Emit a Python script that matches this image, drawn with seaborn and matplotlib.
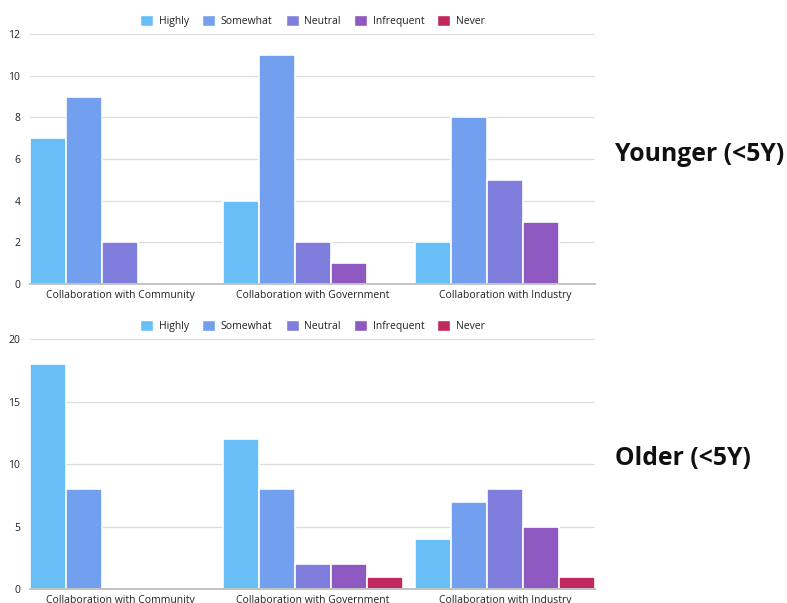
import matplotlib
matplotlib.use("Agg")
import matplotlib.pyplot as plt
import seaborn as sns
import pandas as pd
from matplotlib.patches import Patch

categories = ["Collaboration with Community", "Collaboration with Government", "Collaboration with Industry"]
levels = ["Highly", "Somewhat", "Neutral", "Infrequent", "Never"]
colors = ["#67BFF5", "#72A0EF", "#7F7EDC", "#8E59C0", "#C0285E"]

younger_highly = [7, 4, 2]
younger_somewhat = [9, 11, 8]
younger_neutral = [2, 2, 5]
younger_infrequent = [0, 1, 3]
younger_never = [0, 0, 0]

older_highly = [18, 12, 4]
older_somewhat = [8, 8, 7]
older_neutral = [0, 2, 8]
older_infrequent = [0, 2, 5]
older_never = [0, 1, 1]


def to_long(series):
    rows = []
    for level, vals in zip(levels, series):
        for cat, v in zip(categories, vals):
            rows.append({"category": cat, "level": level, "count": v})
    return pd.DataFrame(rows)


young_df = to_long([younger_highly, younger_somewhat, younger_neutral, younger_infrequent, younger_never])
old_df = to_long([older_highly, older_somewhat, older_neutral, older_infrequent, older_never])

sns.set_theme(style="white")
plt.rcParams["font.family"] = ["Open Sans", "DejaVu Sans"]

fig = plt.figure(figsize=(7.87, 6.03), dpi=100)
ax_top = fig.add_axes([0.0381, 0.529, 0.718, 0.4146])
ax_bot = fig.add_axes([0.0381, 0.0232, 0.718, 0.4146])


def draw(ax, df, ymax, ticks):
    sns.barplot(data=df, x="category", y="count", hue="level", hue_order=levels,
                order=categories, palette=colors, saturation=1, width=0.935, ax=ax,
                edgecolor="white", linewidth=1.2, legend=False, errorbar=None)
    ax.set_xlim(-0.4675, 2.4675)
    ax.set_ylim(0, ymax)
    ax.set_yticks(ticks)
    ax.set_xlabel("")
    ax.set_ylabel("")
    ax.grid(axis="y", color="#DDDDDD", linewidth=0.9)
    ax.set_axisbelow(True)
    for s in ["top", "right", "left"]:
        ax.spines[s].set_visible(False)
    ax.spines["bottom"].set_color("#BBBBBB")
    ax.tick_params(axis="both", length=0, labelsize=7.5, colors="#222222", pad=4)
    ax.tick_params(axis="y", pad=7)
    handles = [Patch(facecolor=c, edgecolor="white", label=l) for l, c in zip(levels, colors)]
    ax.legend(handles=handles, loc="lower center", bbox_to_anchor=(0.5, 1.012), ncol=5,
              frameon=False, fontsize=7.5, handlelength=1.25, handleheight=1.25,
              handletextpad=0.55, columnspacing=1.25, borderaxespad=0, labelcolor="#222222")


draw(ax_top, young_df, 12, [0, 2, 4, 6, 8, 10, 12])
draw(ax_bot, old_df, 20, [0, 5, 10, 15, 20])

fig.text(0.781, 0.743, "Younger (<5Y)", fontsize=17.8, fontweight="bold", color="#111111", va="center", ha="left")
fig.text(0.781, 0.240, "Older (<5Y)", fontsize=17.8, fontweight="bold", color="#111111", va="center", ha="left")

fig.savefig("out.png", dpi=100, facecolor="white")
